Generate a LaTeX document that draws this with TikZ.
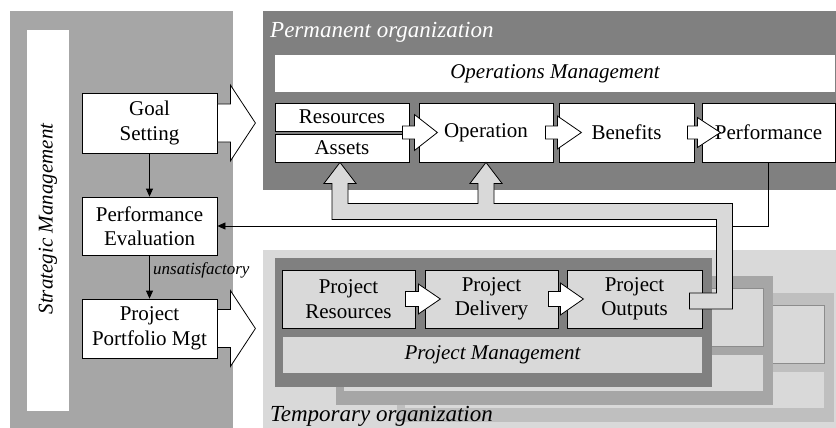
\documentclass[tikz,border=0pt]{standalone}
\usepackage{fontspec}
\setmainfont{Liberation Serif}
\usetikzlibrary{calc,arrows.meta}
\definecolor{stratgray}{HTML}{A6A6A6}
\definecolor{darkpanel}{HTML}{808080}
\definecolor{lightpanel}{HTML}{D9D9D9}
\definecolor{shadowA}{HTML}{A6A6A6}
\definecolor{shadowB}{HTML}{BFBFBF}
\definecolor{shadowline}{HTML}{8C8C8C}
\tikzset{
 txt/.style={font=\fontsize{21}{24.5}\selectfont},
 wbox/.style={draw=black, line width=0.8pt, fill=white, inner sep=0pt, align=center, txt},
 gbox/.style={wbox, fill=lightpanel},
 hollow/.style={draw=black, line width=0.8pt, fill=white, line join=miter},
 fatarrow/.style={draw=black, line width=0.8pt, fill=lightpanel, line join=miter},
 conn/.style={draw=black, line width=0.8pt, -{Triangle[length=8pt,width=7pt]}},
 orglabel/.style={font=\fontsize{23}{27}\selectfont\itshape, inner sep=0pt, anchor=base west},
 itlabel/.style={font=\fontsize{21}{24}\selectfont\itshape, inner sep=0pt},
}
\newcommand\harrow[5]{\draw[hollow] ($#1+(0,-#4)$) -- ++(#2,0) -- ++(0,#4-#5) -- ++(#3,#5) -- ++(-#3,#5) -- ++(0,#4-#5) -- ++(-#2,0) -- cycle;}
\begin{document}
\begin{tikzpicture}[x=1pt,y=-1pt]
\useasboundingbox (0,0) rectangle (836,428);
\fill[white] (0,0) rectangle (836,428);
% ---------- strategic management ----------
\fill[stratgray] (10,11) rectangle (233,428);
\fill[white] (27,30) rectangle (69,411);
\node[itlabel, rotate=90] (strat) at (48,219) {Strategic Management};
\node[wbox, minimum width=135pt, minimum height=60pt] (goal) at (149.5,123) {Goal\\Setting};
\node[wbox, minimum width=135pt, minimum height=58pt] (peval) at (149.5,226) {Performance\\Evaluation};
\node[wbox, minimum width=135pt, minimum height=59pt] (ppm) at (149.5,328.5) {Project\\Portfolio Mgt};
\draw[conn] (goal) -- (peval);
\draw[conn] (peval) -- (ppm);
\node[font=\fontsize{17}{20}\selectfont\itshape, inner sep=0pt, anchor=base west] (unsat) at (153,274) {unsatisfactory};
\harrow{(goal.east)}{13}{25}{19}{38}
\harrow{(ppm.east)}{13}{25}{19}{38}
% ---------- permanent organization ----------
\fill[darkpanel] (263,11) rectangle (836,190);
\node[orglabel, text=white] (permlbl) at (270,38) {Permanent organization};
\node[itlabel, fill=white, minimum width=560pt, minimum height=37pt] (opsm) at (555,73.5) {Operations Management};
\node[wbox, minimum width=134pt, minimum height=28pt] (res) at (342,117) {Resources};
\node[wbox, minimum width=134pt, minimum height=28pt] (assets) at (342,148) {Assets};
\node[wbox, minimum width=134pt, minimum height=59pt] (oper) at (486,132.5) {Operation};
\node[wbox, minimum width=135pt, minimum height=59pt] (ben) at (626.5,132.5) {Benefits};
\node[wbox, minimum width=133pt, minimum height=59pt] (perf) at (768.5,132.5) {Performance};
\coordinate (a1) at ($(res.south east)!0.5!(assets.north east)+(-7,0)$);
\harrow{(a1)}{12}{23}{6.5}{18}
\coordinate (a2) at ($(oper.east)+(-8,0)$);
\harrow{(a2)}{12}{24}{6.5}{16.5}
\coordinate (a3) at ($(ben.east)+(-7,0)$);
\harrow{(a3)}{10}{23}{6.5}{15}
% ---------- temporary organization ----------
\fill[lightpanel] (263,250) rectangle (836,428);
% shadow frame 3
\fill[shadowB] (397,293) rectangle (834,422);
\draw[shadowline, line width=0.8pt, fill=lightpanel] (689,305) rectangle (824,363);
\fill[lightpanel] (405,372) rectangle (824,408);
% shadow frame 2
\fill[shadowA] (336,276) rectangle (773,405);
\draw[shadowline, line width=0.8pt, fill=lightpanel] (628,288) rectangle (763,346);
\fill[lightpanel] (344,355) rectangle (763,391);
% front frame
\fill[darkpanel] (275,258) rectangle (712,387);
\node[gbox, minimum width=133pt, minimum height=58pt] (pres) at (348.5,299) {Project\\Resources};
\node[gbox, minimum width=133pt, minimum height=58pt] (pdel) at (491.5,299) {Project\\Delivery};
\node[gbox, minimum width=135pt, minimum height=58pt] (pout) at (634.5,299) {Project\\Outputs};
\node[itlabel, fill=lightpanel, minimum width=419pt, minimum height=36pt] (pm) at (492.5,355) {Project Management};
\coordinate (b1) at ($(pres.east)+(-10,0)$);
\harrow{(b1)}{13}{22}{7.5}{15}
\coordinate (b2) at ($(pdel.east)+(-10,0)$);
\harrow{(b2)}{12}{23}{7.5}{16}
\node[orglabel] (templbl) at (270,421.5) {Temporary organization};
% ---------- feedback ----------
\draw[conn] (perf.south) |- (peval.east);
% ---------- fat return arrow ----------
\coordinate (fa) at ($(assets.south)+(-2,0)$);
\coordinate (fo) at (oper.south);
\coordinate (so) at ($(pout.east)+(-13,2)$);
\coordinate (sr) at ($(so)+(43,0)$);
\coordinate (si) at ($(so)+(27,0)$);
\coordinate (bt) at ($(fa)+(0,41)$);
\coordinate (bb) at ($(fa)+(0,57)$);
\draw[fatarrow] ($(fa)+(-8,57)$) -- ($(fa)+(-8,21)$) -- ($(fa)+(-16,21)$) -- (fa) -- ($(fa)+(16,21)$) -- ($(fa)+(8,21)$) -- ($(fa)+(8,41)$)
  -- ($(fo)+(-8,41)$) -- ($(fo)+(-8,21)$) -- ($(fo)+(-16,21)$) -- (fo) -- ($(fo)+(16,21)$) -- ($(fo)+(8,21)$) -- ($(fo)+(8,41)$)
  -- (sr |- bt) -- ($(sr)+(0,8)$) -- ($(so)+(0,8)$) -- ($(so)+(0,-8)$) -- ($(si)+(0,-8)$) -- (si |- bb) -- cycle;
\end{tikzpicture}
\end{document}
